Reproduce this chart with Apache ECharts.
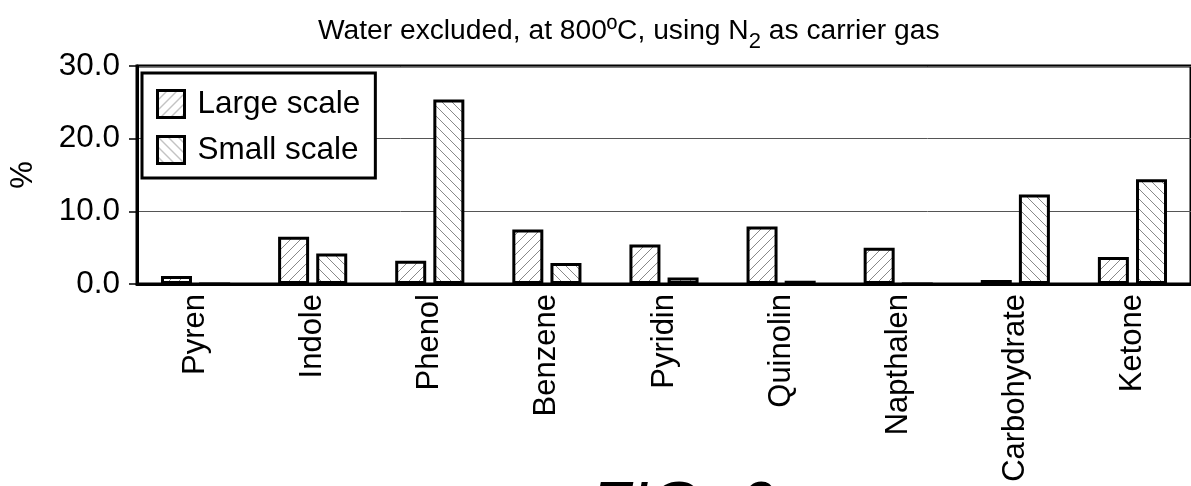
<!DOCTYPE html>
<html>
<head>
<meta charset="utf-8">
<script src="https://cdn.jsdelivr.net/npm/echarts@6/dist/echarts.min.js"></script>
<style>
html,body{margin:0;padding:0;background:#fff;}
#chart{width:1191px;height:486px;}
</style>
</head>
<body>
<div id="chart"></div>
<script>
// ---- data ----
const categories = ['Pyren','Indole','Phenol','Benzene','Pyridin','Quinolin','Napthalen','Carbohydrate','Ketone'];
const largeScale = [1.1, 6.5, 3.2, 7.5, 5.45, 7.9, 5.0, 0.55, 3.7];
const smallScale = [0, 4.2, 25.4, 2.9, 0.9, 0.45, 0, 12.3, 14.4];
const seriesNames = ['Large scale', 'Small scale'];
const yTicks = [0, 10, 20, 30];

function hatch(dir) {
  const s = 10;
  const c = document.createElement('canvas');
  c.width = s; c.height = s;
  const ctx = c.getContext('2d');
  ctx.fillStyle = '#fff';
  ctx.fillRect(0, 0, s, s);
  ctx.strokeStyle = '#888';
  ctx.lineWidth = 1;
  ctx.beginPath();
  if (dir === '/') {
    ctx.moveTo(-1, s + 1); ctx.lineTo(s + 1, -1);
    ctx.moveTo(-1, 1); ctx.lineTo(1, -1);
    ctx.moveTo(s - 1, s + 1); ctx.lineTo(s + 1, s - 1);
  } else {
    ctx.moveTo(-1, -1); ctx.lineTo(s + 1, s + 1);
    ctx.moveTo(s - 1, -1); ctx.lineTo(s + 1, 1);
    ctx.moveTo(-1, s - 1); ctx.lineTo(1, s + 1);
  }
  ctx.stroke();
  return { image: c, repeat: 'repeat' };
}

const font = 'Liberation Sans, Arial, sans-serif';
const chart = echarts.init(document.getElementById('chart'), null, { renderer: 'canvas' });

chart.setOption({
  animation: false,
  backgroundColor: '#fff',
  title: {
    text: '{n|Water excluded, at 800ºC, using N}{s|2}{n| as carrier gas}',
    left: 313,
    top: 5,
    textStyle: {
      fontWeight: 'normal',
      rich: {
        n: { fontFamily: font, fontSize: 28.2, fontWeight: 'normal', color: '#000', lineHeight: 34 },
        s: { fontFamily: font, fontSize: 22, fontWeight: 'normal', color: '#000', padding: [21, 0, 0, 0] }
      }
    }
  },
  legend: {
    orient: 'vertical',
    left: 142,
    top: 73,
    backgroundColor: '#fff',
    borderColor: '#000',
    borderWidth: 3,
    padding: [15, 15, 12, 14],
    itemGap: 14,
    itemWidth: 27,
    itemHeight: 27,
    icon: 'rect',
    itemStyle: { borderColor: '#000', borderWidth: 3 },
    textStyle: { fontFamily: font, fontSize: 31.5, color: '#000', lineHeight: 30, padding: [0, 0, 0, 8] },
    data: seriesNames
  },
  grid: {
    left: 134,
    right: -8,
    top: 66,
    bottom: 202,
    show: true,
    borderColor: '#000',
    borderWidth: 3,
    backgroundColor: 'transparent'
  },
  xAxis: {
    type: 'category',
    data: categories,
    axisLine: { show: true, lineStyle: { color: '#000', width: 3 } },
    axisTick: { show: false },
    axisLabel: { rotate: 90, margin: 10, fontFamily: font, fontSize: 31, color: '#000' }
  },
  yAxis: {
    type: 'value',
    min: yTicks[0],
    max: yTicks[yTicks.length - 1],
    interval: 10,
    name: '%',
    nameLocation: 'middle',
    nameGap: 98,
    nameRotate: 90,
    nameTextStyle: { fontFamily: font, fontSize: 31, color: '#000' },
    axisLine: { show: true, lineStyle: { color: '#000', width: 3 } },
    axisTick: { show: true, length: 8, lineStyle: { color: '#000', width: 1.5 } },
    axisLabel: { margin: 17, fontFamily: font, fontSize: 31.5, color: '#000', formatter: v => v.toFixed(1) },
    splitLine: { show: true, lineStyle: { color: '#555', width: 1 } }
  },
  series: [
    {
      name: seriesNames[0], type: 'bar', data: largeScale,
      barWidth: 31, barGap: '23%',
      itemStyle: { color: hatch('/'), borderColor: '#000', borderWidth: 3 }
    },
    {
      name: seriesNames[1], type: 'bar', data: smallScale,
      barWidth: 31, barGap: '23%',
      itemStyle: { color: hatch('\\'), borderColor: '#000', borderWidth: 3 }
    }
  ],
  graphic: [
    {
      type: 'text', left: 590, top: 477,
      style: { text: 'FIG. 6', fontFamily: font, fontSize: 66, fontStyle: 'italic', fill: '#000' }
    }
  ]
});
</script>
</body>
</html>
